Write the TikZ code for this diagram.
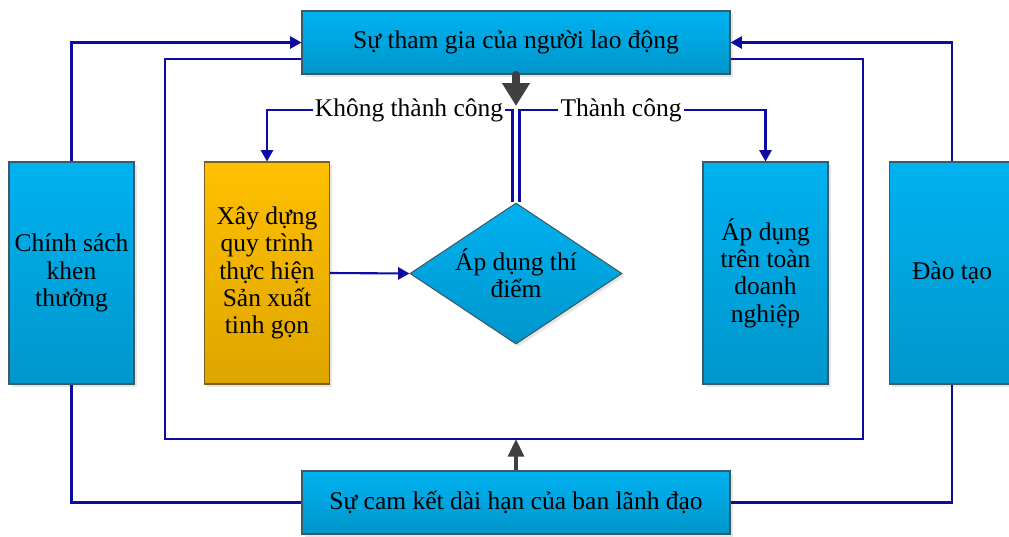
\documentclass[tikz,border=0pt]{standalone}
\usepackage{fontspec}
\setmainfont{Liberation Serif}
\usepackage{tikz}
\usetikzlibrary{shapes.geometric,arrows.meta,shadows}
\definecolor{boxtop}{HTML}{00B2F0}
\definecolor{boxbot}{HTML}{0096CC}
\definecolor{goldtop}{HTML}{FFC000}
\definecolor{goldbot}{HTML}{DEA500}
\definecolor{edge}{HTML}{3A5A68}
\definecolor{goldedge}{HTML}{7A6020}
\definecolor{navy}{HTML}{0C0CA0}
\definecolor{arrowgray}{HTML}{404040}

\tikzset{
  txt/.style={font=\fontsize{14.5}{15.5}\selectfont, align=center},
  bluebox/.style={txt, draw=edge, line width=0.6pt, top color=boxtop, bottom color=boxbot,
    inner sep=2pt, drop shadow={shadow xshift=1.5pt, shadow yshift=-1.5pt, opacity=0.2}},
  goldbox/.style={bluebox, draw=goldedge, top color=goldtop, bottom color=goldbot},
  widebox/.style={minimum width=85.6mm, minimum height=12.6mm},
  tallbox/.style={minimum width=25mm, minimum height=44.4mm},
  diamondbox/.style={bluebox, diamond, shape aspect=1.5, minimum width=42.4mm, minimum height=28.2mm, inner sep=0pt},
  lbl/.style={txt, inner sep=1pt},
  wire/.style={draw=navy, line width=1.2pt},
  flow/.style={wire, -{Triangle[width=7pt,length=6.5pt]}},
  bigarrow/.style={draw=arrowgray, line width=4pt, line cap=round, -{Triangle[width=15pt,length=13pt]}},
  smallarrow/.style={draw=arrowgray, line width=2pt, -{Triangle[width=9pt,length=10pt]}}
}

\begin{document}
\begin{tikzpicture}[x=0.2mm, y=-0.2mm]
  \useasboundingbox (0,0) rectangle (1009,536);

  % outer loop
  \coordinate (lpL) at (165,439);
  \coordinate (lpR) at (863,439);
  \coordinate (lpB) at (516,439);
  \coordinate (drop) at (516,106);

  \node[bluebox, widebox] (thamgia) at (516,42.5) {Sự tham gia của người lao động};
  \node[bluebox, widebox] (camket) at (516,502.5) {Sự cam kết dài hạn của ban lãnh đạo};
  \node[bluebox, tallbox] (chinhsach) at (71.5,273) {Chính sách\\khen\\thưởng};
  \node[goldbox, tallbox] (xaydung) at (267,273) {Xây dựng\\quy trình\\thực hiện\\Sản xuất\\tinh gọn};
  \node[diamondbox] (thidiem) at (516,273.5) {Áp dụng thí\\điểm};
  \node[bluebox, tallbox] (toanbo) at (765.5,273) {Áp dụng\\trên toàn\\doanh\\nghiệp};
  \node[bluebox, tallbox] (daotao) at (952,273) {Đào tạo};
  \node[lbl] (khong) at (409,110) {Không thành công};
  \node[lbl] (thanhcong) at (621,110) {Thành công};

  \draw[wire] (thamgia.west |- 0,59) -| (lpL) -| (lpR |- 0,59) -- (thamgia.east |- 0,59);

  \draw[flow] (chinhsach.north) |- (thamgia.west);
  \draw[wire] (chinhsach.south) |- (camket.west);
  \draw[flow] (daotao.north) |- (thamgia.east);
  \draw[wire] (daotao.south) |- (camket.east);

  \draw[flow] (xaydung.east) -- (thidiem.west);
  \draw[wire] ([xshift=-2pt]thidiem.north) |- (khong.east);
  \draw[flow] (khong.west) -| (xaydung.north);
  \draw[wire] ([xshift=2pt]thidiem.north) |- (thanhcong.west);
  \draw[flow] (thanhcong.east) -| (toanbo.north);

  \draw[bigarrow] (thamgia.south) -- (drop);
  \draw[smallarrow] (camket.north) -- (lpB);
\end{tikzpicture}
\end{document}
